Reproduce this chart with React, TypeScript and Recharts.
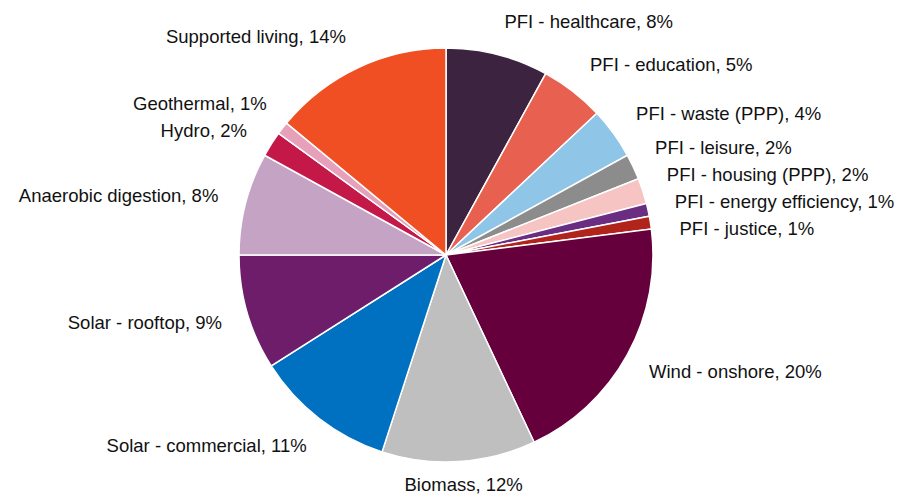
import { PieChart, Pie, Cell } from 'recharts'

const names = [
  'PFI - healthcare',
  'PFI - education',
  'PFI - waste (PPP)',
  'PFI - leisure',
  'PFI - housing (PPP)',
  'PFI - energy efficiency',
  'PFI - justice',
  'Wind - onshore',
  'Biomass',
  'Solar - commercial',
  'Solar - rooftop',
  'Anaerobic digestion',
  'Hydro',
  'Geothermal',
  'Supported living',
]

const shares = [8, 5, 4, 2, 2, 1, 1, 20, 12, 11, 9, 8, 2, 1, 14]

const colors = [
  '#3c2340',
  '#e8604f',
  '#8fc6e8',
  '#8c8c8c',
  '#f6c4c3',
  '#6b2d82',
  '#b0241c',
  '#66003c',
  '#bfbfbf',
  '#0070c0',
  '#6d1d69',
  '#c5a3c5',
  '#c41848',
  '#e6a0ba',
  '#f04e23',
]

const rows = names.map((name, i) => ({ name, value: shares[i] }))

const CX = 446
const CY = 255
const R = 207
const LABEL_R = 235
const MIN_GAP = 27

type LabelPos = { x: number; y: number; y0: number; anchor: 'start' | 'end' | 'middle'; side: number }

// place labels outside the pie, then push apart ones that collide on each side
function layoutLabels(): LabelPos[] {
  const total = shares.reduce((a, b) => a + b, 0)
  let cum = 0
  const pos: LabelPos[] = shares.map((v) => {
    const deg = (360 * (cum + v / 2)) / total
    cum += v
    const t = (deg * Math.PI) / 180
    const s = Math.sin(t)
    const c = Math.cos(t)
    if (Math.abs(s) < 0.15) {
      const r = R + 14
      const y = CY - r * c - 9 * c
      return { x: CX + r * s + 60 * s, y, y0: y, anchor: 'middle', side: 0 }
    }
    const y = CY - LABEL_R * c - 6 * c
    return {
      x: CX + LABEL_R * s - 6 * Math.sign(s) * Math.max(0, -c),
      y,
      y0: y,
      anchor: s > 0 ? 'start' : 'end',
      side: s > 0 ? 1 : -1,
    }
  })

  for (const side of [1, -1]) {
    const group = pos.filter((p) => p.side === side).sort((a, b) => a.y - b.y)
    for (let it = 0; it < 50; it++) {
      let moved = false
      for (let k = 1; k < group.length; k++) {
        const gap = group[k].y - group[k - 1].y
        if (gap < MIN_GAP) {
          const d = (MIN_GAP - gap) / 2
          group[k - 1].y -= d
          group[k].y += d
          moved = true
        }
      }
      if (!moved) break
    }
    // labels that were shifted slide along the label circle
    group.forEach((p) => {
      const dy = p.y - CY
      if (Math.abs(p.y - p.y0) > 0.5 && Math.abs(dy) < LABEL_R) {
        p.x = CX + side * Math.sqrt(LABEL_R * LABEL_R - dy * dy)
      }
    })
  }
  return pos
}

const labelPos = layoutLabels()

const renderLabel = (props: { index?: number }) => {
  const i = props.index ?? 0
  const p = labelPos[i]
  return (
    <text
      key={`lbl-${i}`}
      x={p.x}
      y={p.y}
      textAnchor={p.anchor}
      dominantBaseline="central"
      fontFamily="'Liberation Sans', Arial, sans-serif"
      fontSize={18.5}
      fill="#111"
    >
      {`${names[i]}, ${shares[i]}%`}
    </text>
  )
}

export default function App() {
  return (
    <div style={{ position: 'absolute', left: 0, top: 0, width: 912, height: 496, background: '#fff' }}>
      <PieChart width={912} height={496} margin={{ top: 0, right: 0, bottom: 0, left: 0 }}>
        <Pie
          data={rows}
          dataKey="value"
          nameKey="name"
          cx={CX}
          cy={CY}
          outerRadius={R}
          startAngle={90}
          endAngle={-270}
          stroke="#fff"
          strokeWidth={1.5}
          label={renderLabel}
          labelLine={false}
          isAnimationActive={false}
        >
          {rows.map((r, i) => (
            <Cell key={r.name} fill={colors[i]} />
          ))}
        </Pie>
      </PieChart>
    </div>
  )
}
